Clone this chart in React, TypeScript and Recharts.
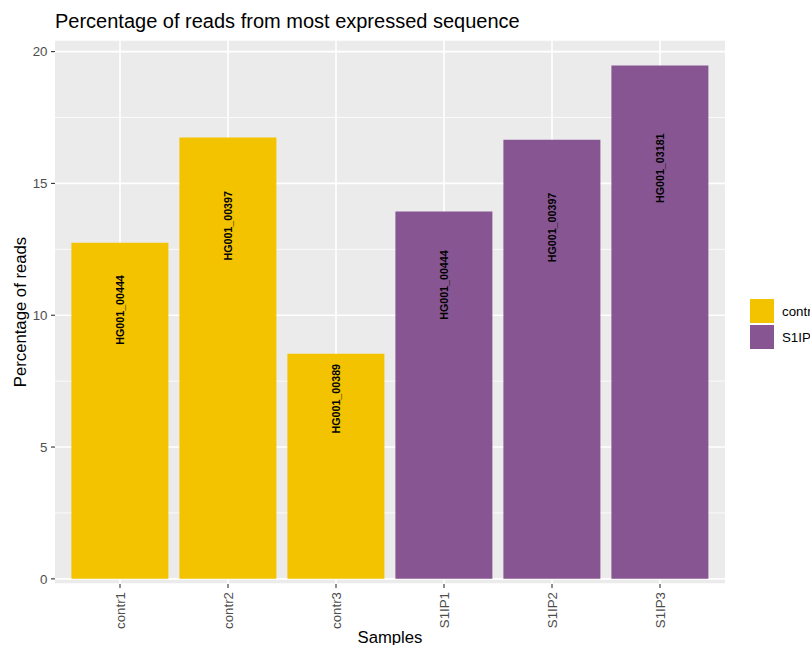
import React from 'react';
import {
  BarChart,
  Bar,
  Cell,
  XAxis,
  YAxis,
  CartesianGrid,
  ReferenceLine,
  LabelList,
} from 'recharts';

const samples = ['contr1', 'contr2', 'contr3', 'S1IP1', 'S1IP2', 'S1IP3'];
const sampleGroups = ['contr', 'contr', 'contr', 'S1IP', 'S1IP', 'S1IP'];
const readPercent = [12.75, 16.74, 8.54, 13.93, 16.66, 19.47];
const topSequence = ['HG001_00444', 'HG001_00397', 'HG001_00389', 'HG001_00444', 'HG001_00397', 'HG001_03181'];

const groupNames = ['contr', 'S1IP'];
const groupColors: Record<string, string> = { contr: '#F3C300', S1IP: '#875692' };

const yTicks = [0, 5, 10, 15, 20];
const yMinorTicks = [2.5, 7.5, 12.5, 17.5];

const data = samples.map((sample, i) => ({
  sample,
  group: sampleGroups[i],
  percent: readPercent[i],
  seqId: topSequence[i],
}));

const FONT = '"Liberation Sans", Arial, Helvetica, sans-serif';

// rotated sequence id, centred at 80% of the bar height
const SeqLabel = (props: any) => {
  const { x, y, width, height, value } = props;
  const cx = Number(x) + Number(width) / 2;
  const cy = Number(y) + Number(height) * 0.2;
  return (
    <text
      transform={`translate(${cx},${cy}) rotate(-90)`}
      textAnchor="middle"
      dominantBaseline="central"
      fontFamily={FONT}
      fontSize={10.7}
      fontWeight="bold"
      fill="#000"
    >
      {value}
    </text>
  );
};

const SampleTick = (props: any) => {
  const { x, y, payload } = props;
  return (
    <text
      transform={`translate(${x},${y}) rotate(-90)`}
      textAnchor="end"
      dominantBaseline="central"
      fontFamily={FONT}
      fontSize={13.3}
      fill="#4D4D4D"
    >
      {payload.value}
    </text>
  );
};

const GroupLegend = () => (
  <div style={{ position: 'absolute', left: 749, top: 298, fontFamily: FONT, fontSize: 13.3, color: '#000' }}>
    {groupNames.map((g) => (
      <div key={g} style={{ display: 'flex', alignItems: 'center', height: 26 }}>
        <div style={{ width: 26, height: 26, boxSizing: 'border-box', padding: 1 }}>
          <div style={{ width: 24, height: 24, background: groupColors[g] }} />
        </div>
        <span style={{ marginLeft: 7, whiteSpace: 'nowrap' }}>{g}</span>
      </div>
    ))}
  </div>
);

export default function App() {
  return (
    <div style={{ position: 'absolute', left: 0, top: 0, width: 810, height: 645, background: '#fff', overflow: 'hidden' }}>
      <div
        style={{
          position: 'absolute',
          left: 55,
          top: 10.6,
          fontFamily: FONT,
          fontSize: 20,
          lineHeight: '20px',
          color: '#000',
          whiteSpace: 'nowrap',
        }}
      >
        Percentage of reads from most expressed sequence
      </div>
      <BarChart
        width={810}
        height={645}
        data={data}
        margin={{ top: 40, right: 85, bottom: 0, left: 0 }}
        barCategoryGap="5%"
      >
        <CartesianGrid fill="#EBEBEB" stroke="#FFFFFF" strokeWidth={1.6} vertical={false} />
        {yMinorTicks.map((v) => (
          <ReferenceLine key={`m${v}`} y={v} stroke="#FFFFFF" strokeWidth={0.8} zIndex={-50} />
        ))}
        {samples.map((s) => (
          <ReferenceLine key={`v${s}`} x={s} stroke="#FFFFFF" strokeWidth={1.6} zIndex={-50} />
        ))}
        <XAxis
          dataKey="sample"
          height={61}
          padding={{ left: 11, right: 11 }}
          axisLine={false}
          tickLine={{ stroke: '#333333', strokeWidth: 1.1 }}
          tickSize={4}
          tickMargin={4}
          interval={0}
          tick={<SampleTick />}
          label={{
            content: (p: any) => {
              const vb = p.viewBox || {};
              return (
                <text x={vb.x + vb.width / 2} y={643} textAnchor="middle" fontFamily={FONT} fontSize={16.7} fill="#000">
                  Samples
                </text>
              );
            },
          }}
        />
        <YAxis
          type="number"
          width={55}
          domain={[-0.195, 20.44]}
          allowDataOverflow
          ticks={yTicks}
          axisLine={false}
          tickLine={{ stroke: '#333333', strokeWidth: 1.1 }}
          tickSize={4}
          tickMargin={3.5}
          tick={{ fontFamily: FONT, fontSize: 13.3, fill: '#4D4D4D' }}
          label={{
            content: (p: any) => {
              const vb = p.viewBox || {};
              const cy = vb.y + vb.height / 2;
              return (
                <text
                  transform={`translate(26,${cy}) rotate(-90)`}
                  textAnchor="middle"
                  fontFamily={FONT}
                  fontSize={16.7}
                  fill="#000"
                >
                  Percentage of reads
                </text>
              );
            },
          }}
        />
        <Bar dataKey="percent" isAnimationActive={false}>
          {data.map((d) => (
            <Cell key={d.sample} fill={groupColors[d.group]} />
          ))}
          <LabelList dataKey="seqId" content={<SeqLabel />} />
        </Bar>
      </BarChart>
      <GroupLegend />
    </div>
  );
}
